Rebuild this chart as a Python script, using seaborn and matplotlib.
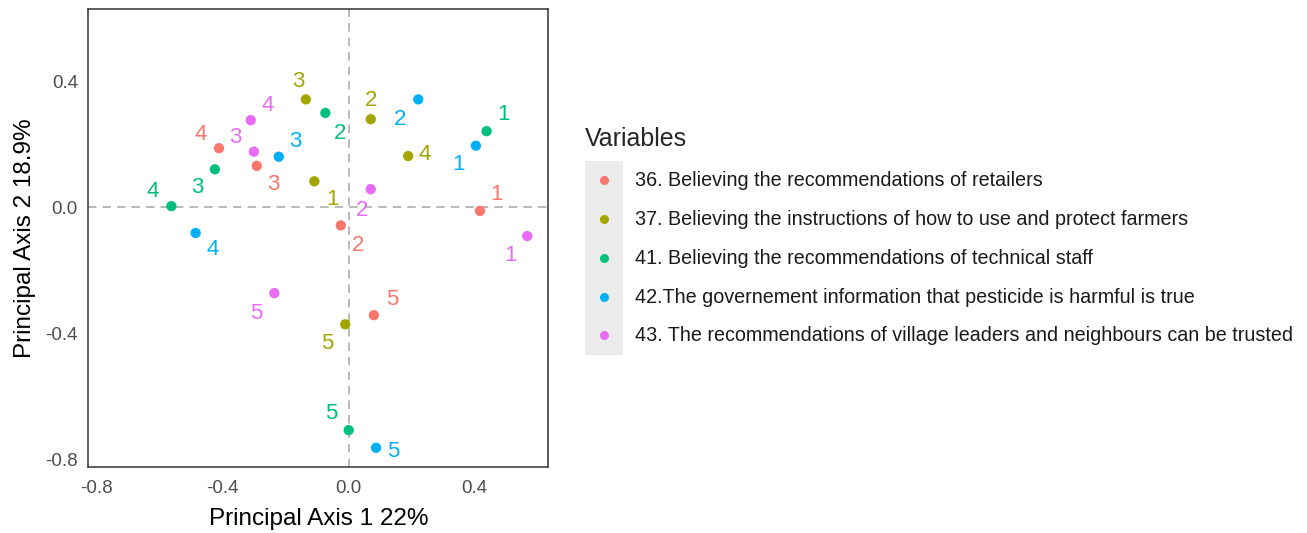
import matplotlib
matplotlib.use("Agg")
import matplotlib.pyplot as plt
import seaborn as sns
import pandas as pd
import numpy as np
from matplotlib.lines import Line2D
from matplotlib.patches import Rectangle
from matplotlib.legend_handler import HandlerTuple, HandlerLine2D

# ---------------- data ----------------
variables = [
    "36. Believing the recommendations of retailers",
    "37. Believing the instructions of how to use and protect farmers",
    "41. Believing the recommendations of technical staff",
    "42.The governement information that pesticide is harmful is true",
    "43. The recommendations of village leaders and neighbours can be trusted",
]
levels = ["1", "2", "3", "4", "5"]

axis1_v36 = [0.417, -0.025, -0.292, -0.412, 0.080]
axis2_v36 = [-0.011, -0.057, 0.132, 0.188, -0.342]
axis1_v37 = [-0.109, 0.070, -0.136, 0.189, -0.011]
axis2_v37 = [0.083, 0.280, 0.343, 0.163, -0.371]
axis1_v41 = [0.438, -0.074, -0.425, -0.563, 0.000]
axis2_v41 = [0.242, 0.300, 0.121, 0.004, -0.707]
axis1_v42 = [0.404, 0.221, -0.222, -0.486, 0.087]
axis2_v42 = [0.196, 0.343, 0.161, -0.081, -0.763]
axis1_v43 = [0.567, 0.070, -0.301, -0.311, -0.236]
axis2_v43 = [-0.091, 0.058, 0.177, 0.277, -0.272]

x_ticks = [-0.8, -0.4, 0.0, 0.4]
y_ticks = [-0.8, -0.4, 0.0, 0.4]

# ---------------- style ----------------
colors = ["#F8766D", "#A3A500", "#00BF7D", "#00B0F6", "#E76BF3"]
# label offsets (pixels, right / down) as placed by the repel algorithm
label_offsets = [
    [(17, -16), (17, 20), (17, 19), (-18, -14), (18, -16)],
    [(18, 18), (0, -19), (-8, -18), (16, -2), (-18, 19)],
    [(17, -17), (15, 21), (-18, 18), (-19, -15), (-17, -17)],
    [(-17, 19), (-18, 20), (17, -15), (17, 17), (17, 4)],
    [(-17, 19), (-9, 21), (-19, -14), (17, -15), (-18, 20)],
]

xs = [axis1_v36, axis1_v37, axis1_v41, axis1_v42, axis1_v43]
ys = [axis2_v36, axis2_v37, axis2_v41, axis2_v42, axis2_v43]
rows = []
for v, xa, ya in zip(variables, xs, ys):
    for lev, x, y in zip(levels, xa, ya):
        rows.append({"Variables": v, "level": lev, "PA1": x, "PA2": y})
df = pd.DataFrame(rows)

sns.set_style("white")
plt.rcParams["font.family"] = ["Liberation Sans", "DejaVu Sans"]

W, H = 1307, 533
fig = plt.figure(figsize=(W / 100, H / 100), dpi=100)
ax = fig.add_axes([88.3 / W, 1 - 467.3 / H, (548.3 - 88.3) / W, (467.3 - 9.3) / H])

ax.axhline(0, color="#A6A6A6", lw=1.1, ls=(0, (5.5, 4)), zorder=1)
ax.axvline(0, color="#A6A6A6", lw=1.1, ls=(0, (5.5, 4)), zorder=1)

palette = dict(zip(variables, colors))
sns.scatterplot(data=df, x="PA1", y="PA2", hue="Variables", palette=palette,
                s=55, linewidth=0, legend=False, ax=ax, zorder=3)

px2pt = 0.72
for vi, v in enumerate(variables):
    for li, lev in enumerate(levels):
        dx, dy = label_offsets[vi][li]
        ax.annotate(lev, (xs[vi][li], ys[vi][li]), xytext=(dx * px2pt, -dy * px2pt),
                    textcoords="offset points", ha="center", va="center",
                    fontsize=16, color=colors[vi], zorder=4)

ax.set_xlim(-0.827, 0.634)
ax.set_ylim(-0.825, 0.629)
ax.set_xticks(x_ticks)
ax.set_yticks(y_ticks)
ax.set_xticklabels([f"{t:.1f}" for t in x_ticks])
ax.set_yticklabels([f"{t:.1f}" for t in y_ticks])
ax.tick_params(axis="both", direction="out", length=5, width=1.1, color="#333333",
               labelcolor="#4D4D4D", labelsize=13.5, pad=2.5)
ax.tick_params(axis="x", pad=4)
for sp in ax.spines.values():
    sp.set_color("#333333")
    sp.set_linewidth(1.1)
ax.set_xlabel("Principal Axis 1 22%", fontsize=17.5, color="black", labelpad=8)
ax.set_ylabel("Principal Axis 2 18.9%", fontsize=17.5, color="black", labelpad=7)
ax.grid(False)


class CenteredMarker(HandlerLine2D):
    """Place the legend dot in the vertical centre of the key box."""
    def create_artists(self, legend, orig_handle, xdescent, ydescent,
                       width, height, fontsize, trans):
        arts = super().create_artists(legend, orig_handle, xdescent, ydescent,
                                      width, height, fontsize, trans)
        for a in arts:
            a.set_ydata(np.asarray(a.get_ydata(), dtype=float) - ydescent / 2.0)
        return arts


leg_fs = 14.2
handles = [(Rectangle((0, 0), 1, 1, facecolor="#EBEBEB", edgecolor="none"),
            Line2D([], [], marker="o", ls="", color=c, markersize=6.5, markeredgewidth=0))
           for c in colors]
leg = fig.legend(handles, variables, loc="center left",
                 bbox_to_anchor=(585 / W, 1 - 241 / H), frameon=False,
                 title="Variables", title_fontsize=18, fontsize=leg_fs,
                 handlelength=1.93, handleheight=2.65, labelspacing=0,
                 handletextpad=0.6, borderpad=0, borderaxespad=0, alignment="left",
                 handler_map={tuple: HandlerTuple(ndivide=1, pad=0),
                              Line2D: CenteredMarker()})
for t in leg.get_texts():
    t.set_color("#1A1A1A")
leg._legend_box.sep = 7

fig.savefig("out.png", dpi=100)
